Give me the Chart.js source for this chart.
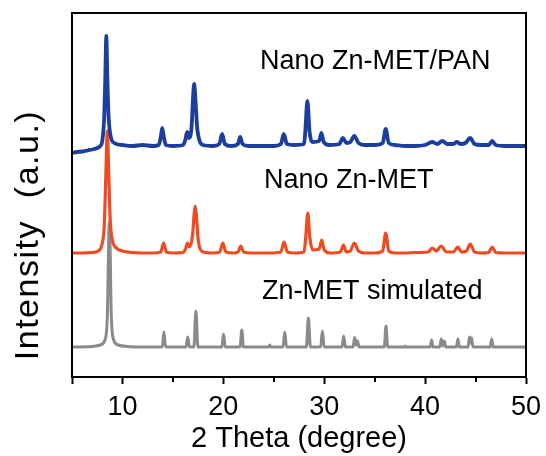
<!DOCTYPE html>
<html>
<head>
<meta charset="utf-8">
<script src="https://cdn.jsdelivr.net/npm/chart.js@4/dist/chart.umd.min.js"></script>
<style>
html,body{margin:0;padding:0;background:#fff;}
canvas{display:block;}
</style>
</head>
<body>
<canvas id="c" width="546" height="456"></canvas>
<script>
// 2θ (degree), intensity (a.u., curves already stacked with offsets)
const blueLabel = "Nano Zn-MET/PAN";
const redLabel = "Nano Zn-MET";
const grayLabel = "Zn-MET simulated";

const bluePts = [[5,224],[5.5,225],[6,225.5],[6.5,226.5],[7,227.5],[7.5,229],[7.8,231],[8.0,236],[8.2,262],[8.3,300],[8.4,341],[8.5,300],[8.62,262],[8.85,240],[9.2,234],[10,232],[11,231],[12,232],[13,231],[13.6,232],[13.8,240],[13.94,249],[14.1,240],[14.3,232],[15,231],[16,232],[16.2,236],[16.42,245],[16.6,239],[16.85,250],[17.0,280],[17.11,293],[17.22,280],[17.4,250],[17.65,236],[18,232],[19,231],[19.6,233],[19.88,243],[20.15,233],[20.8,231],[21.45,233],[21.67,240],[21.9,233],[22.5,231],[24,231],[25,231],[25.7,233],[25.99,243],[26.3,233],[27,232],[28,233],[28.12,245],[28.33,276],[28.55,245],[28.8,235],[29.5,236],[29.72,244],[29.95,235],[30.5,232],[31.5,233],[31.86,239],[32.2,234],[32.6,235],[32.98,241],[33.4,234],[34,232],[35,232],[35.8,234],[36.09,248],[36.4,234],[37,232],[38,231],[39,231],[40,232],[40.71,235],[41.2,233],[41.7,236],[42.2,233],[42.8,233],[43.15,235],[43.5,233],[44,234],[44.47,239],[44.9,233],[45.5,232],[46.3,232],[46.65,236],[47,232],[48,231],[49,231],[50,231]];

const redPts = [[5,124],[6,124],[7,124.5],[7.6,126],[8.0,134],[8.2,152],[8.35,200],[8.5,246],[8.65,200],[8.8,155],[9.0,137],[9.4,129],[10,126],[11,124.5],[12,124],[13,124],[13.8,125],[14.08,134],[14.35,125],[15,124],[16,124.5],[16.25,128],[16.45,134],[16.65,130],[16.95,142],[17.1,162],[17.21,171],[17.32,162],[17.5,138],[17.75,127],[18.2,124.5],[19,124],[19.65,125],[19.95,134],[20.25,125],[21,124],[21.45,125],[21.73,131],[22,125],[23,124],[24.5,124],[25.7,125],[26.02,135],[26.35,125],[27,124],[28,125],[28.17,140],[28.37,164],[28.57,140],[28.85,127],[29.5,128],[29.75,137],[30,127],[30.6,124],[31.6,125],[31.9,132],[32.2,125],[32.6,126],[32.98,134],[33.4,126],[34,124],[35,124],[35.8,126],[36.09,144],[36.4,126],[37,124],[38,124],[39,124.5],[40.3,125],[40.71,129],[41.1,126],[41.6,131],[42.1,125],[42.8,125],[43.25,130],[43.6,125],[44.1,126],[44.47,133],[44.9,125],[45.6,124],[46.3,124.5],[46.65,130],[47,124.5],[48,124],[50,124]];

const grayPts = [[5,30],[7,30.5],[7.8,32],[8.3,38],[8.5,60],[8.7,155],[8.9,60],[9.1,38],[9.6,32],[10.5,30.5],[12,30],[13.95,30],[14.11,45],[14.27,30],[16.3,30],[16.47,40],[16.64,30],[17.08,30],[17.28,66],[17.48,30],[19.85,30],[20.02,43],[20.19,30],[21.66,30],[21.83,47],[22,30],[24.5,30],[24.6,32],[24.7,30],[25.92,30],[26.09,45],[26.26,30],[28.23,30],[28.43,59],[28.63,30],[29.65,30],[29.82,46],[29.99,30],[31.76,30],[31.93,41],[32.1,30],[32.85,30],[33.02,39.5],[33.15,32],[33.3,36],[33.45,30],[35.95,30],[36.12,51],[36.29,30],[38,30],[38.05,31],[38.1,30],[40.5,30],[40.64,37],[40.78,30],[41.45,30],[41.6,38],[41.75,31],[41.9,36],[42.05,30],[43.1,30],[43.25,38],[43.4,30],[44.25,30],[44.4,40],[44.5,34],[44.6,39],[44.75,30],[46.45,30],[46.6,38],[46.75,30],[50,30]];

const xMin = 5, xMax = 50;
const majorTicks = [10, 20, 30, 40, 50];
const minorTicks = [15, 25, 35, 45];
const yMin = 0, yMax = 364;

const FONT = "'Liberation Sans', Arial, Helvetica, sans-serif";

function toXY(pts){ return pts.map(p => ({x:p[0], y:p[1]})); }

const deco = {
  id: 'deco',
  afterDraw(chart){
    const ctx = chart.ctx;
    const a = chart.chartArea;
    const xs = chart.scales.x;
    ctx.save();
    ctx.strokeStyle = '#000';
    ctx.lineWidth = 2;
    ctx.strokeRect(a.left, a.top, a.right - a.left, a.bottom - a.top);
    // minor ticks
    ctx.beginPath();
    minorTicks.forEach(v => {
      const px = Math.round(xs.getPixelForValue(v));
      ctx.moveTo(px, a.bottom);
      ctx.lineTo(px, a.bottom + 5);
    });
    ctx.stroke();
    // series labels
    ctx.fillStyle = '#000';
    ctx.font = '27px ' + FONT;
    ctx.textBaseline = 'alphabetic';
    ctx.textAlign = 'left';
    ctx.fillText(blueLabel, 260, 69);
    ctx.fillText(redLabel, 264, 188);
    ctx.fillText(grayLabel, 262, 299);
    // y title
    ctx.translate(29, 235);
    ctx.rotate(-Math.PI/2);
    ctx.textAlign = 'center';
    ctx.textBaseline = 'middle';
    ctx.font = '34px ' + FONT;
    try { ctx.letterSpacing = '1.5px'; } catch(e) {}
    ctx.fillText('Intensity  (a.u.)', 0, 0);
    ctx.restore();
  }
};

new Chart(document.getElementById('c'), {
  type: 'line',
  data: {
    datasets: [
      {label: blueLabel, data: toXY(bluePts), borderColor: '#1c3f9e', borderWidth: 3.8},
      {label: redLabel, data: toXY(redPts), borderColor: '#ef4b23', borderWidth: 3.2},
      {label: grayLabel, data: toXY(grayPts), borderColor: '#8a8a8a', borderWidth: 3}
    ]
  },
  options: {
    responsive: false,
    animation: false,
    devicePixelRatio: 1,
    layout: {padding: {top: 13, right: 20, left: 0, bottom: 0}},
    elements: {
      point: {radius: 0},
      line: {cubicInterpolationMode: 'monotone', fill: false, borderJoinStyle: 'round'}
    },
    plugins: {legend: {display: false}, tooltip: {enabled: false}},
    scales: {
      x: {
        type: 'linear',
        min: xMin, max: xMax,
        afterBuildTicks(scale){
          scale.ticks = [5].concat(majorTicks).map(v => ({value: v}));
        },
        afterFit(scale){ scale.height = 79; scale.paddingLeft = 0; scale.paddingRight = 0; },
        ticks: {
          color: '#000',
          font: {family: FONT, size: 27},
          padding: 7,
          maxRotation: 0,
          autoSkip: false,
          callback: (v) => majorTicks.includes(v) ? String(v) : ''
        },
        grid: {display: true, drawOnChartArea: false, drawTicks: true, tickLength: 7, tickWidth: 2, tickColor: '#000'},
        border: {display: true, color: '#000', width: 2},
        title: {display: true, text: '2 Theta (degree)', color: '#000', font: {family: FONT, size: 29}, padding: {top: 0, bottom: 0}}
      },
      y: {
        type: 'linear',
        min: yMin, max: yMax,
        afterFit(scale){ scale.width = 72; },
        ticks: {display: false},
        grid: {display: false},
        border: {display: true, color: '#000', width: 2}
      }
    }
  },
  plugins: [deco]
});
</script>
</body>
</html>
